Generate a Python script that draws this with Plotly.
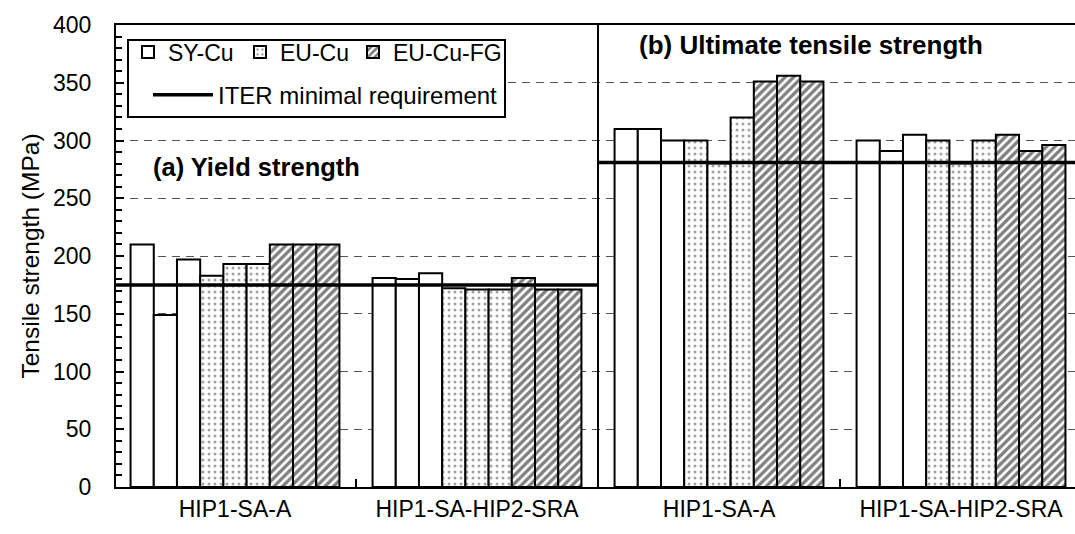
import plotly.graph_objects as go

categories = ["HIP1-SA-A", "HIP1-SA-HIP2-SRA", "HIP1-SA-A", "HIP1-SA-HIP2-SRA"]
materials = ["SY-Cu", "EU-Cu", "EU-Cu-FG"]
sy_cu = [[210, 149, 197], [181, 180, 185], [310, 310, 300], [300, 291, 305]]
eu_cu = [[183, 193, 193], [172, 171, 171], [300, 280, 320], [300, 280, 300]]
eu_cu_fg = [[210, 210, 210], [181, 171, 171], [351, 356, 351], [305, 291, 296]]
iter_yield = 175
iter_uts = 281
panel_labels = ["(a) Yield strength", "(b) Ultimate tensile strength"]
y_tick_vals = [0, 50, 100, 150, 200, 250, 300, 350, 400]

FONT = "Liberation Sans, Arial, sans-serif"
BW = 0.0959
X0, X1 = -0.4917, 3.471
PLOT_L, PLOT_W = 116, 959


def px_to_paper(px):
    return (px - PLOT_L) / PLOT_W


series = [sy_cu, eu_cu, eu_cu_fg]
styles = [
    dict(color="white"),
    dict(color="white", pattern=dict(shape=".", fgcolor="#444444", bgcolor="white", size=6, solidity=0.2)),
    dict(color="white", pattern=dict(shape="/", fgcolor="#000000", bgcolor="white", size=6, solidity=0.55)),
]
legend_names = ["legend", "legend2", "legend3"]
legend_text_px = [169, 281, 394]

fig = go.Figure()
for m, (name, vals, st) in enumerate(zip(materials, series, styles)):
    xs, ys = [], []
    for g, grp in enumerate(vals):
        for s, v in enumerate(grp):
            idx = m * 3 + s
            xs.append(g + (idx - 4) * BW)
            ys.append(v)
    fig.add_trace(go.Bar(
        x=xs, y=ys, width=BW, name=name, legend=legend_names[m],
        marker=dict(**st, line=dict(color="black", width=2)),
    ))

fig.add_trace(go.Scatter(x=[X0, 1.5], y=[iter_yield, iter_yield], mode="lines",
                         line=dict(color="black", width=3.5), name="ITER minimal requirement",
                         legend="legend4"))
fig.add_trace(go.Scatter(x=[1.5, X1], y=[iter_uts, iter_uts], mode="lines",
                         line=dict(color="black", width=3.5), showlegend=False,
                         legend="legend4"))
# boundary ticks axis
fig.add_trace(go.Scatter(x=[0.5], y=[None], xaxis="x2", showlegend=False, hoverinfo="skip"))

leg_common = dict(orientation="h", yanchor="middle", xanchor="left",
                  font=dict(size=23), bgcolor="rgba(0,0,0,0)")
layout_legends = {}
for i, ln in enumerate(legend_names):
    layout_legends[ln] = dict(**leg_common, x=px_to_paper(legend_text_px[i] - 41), y=0.9416)
layout_legends["legend4"] = dict(**leg_common, x=px_to_paper(148), y=0.848, itemwidth=60,
                                 font_size=24)

fig.update_layout(
    width=1075, height=534,
    margin=dict(l=PLOT_L, r=0, t=25, b=47),
    paper_bgcolor="white", plot_bgcolor="white",
    barmode="overlay",
    font=dict(family=FONT, size=23, color="black"),
    showlegend=True,
    xaxis=dict(range=[X0, X1], tickvals=[0, 1, 2, 3], ticktext=categories, ticks="",
               showline=True, linecolor="black", linewidth=2, mirror=True,
               showgrid=False, zeroline=False, tickfont=dict(size=23)),
    xaxis2=dict(range=[X0, X1], overlaying="x", side="bottom", tickvals=[0.5, 1.5, 2.5],
                ticks="inside", ticklen=8, tickwidth=2, tickcolor="black",
                showticklabels=False, showgrid=False, zeroline=False, showline=False),
    yaxis=dict(range=[0, 400], tickvals=y_tick_vals, ticks="inside", ticklen=8, tickwidth=2,
               tickcolor="black", showline=True, linecolor="black", linewidth=2,
               showgrid=True, gridcolor="#555555", gridwidth=1, griddash="8px,6px",
               zeroline=False, tickfont=dict(size=23), ticklabelstandoff=18,
               minor=dict(dtick=10, ticks="inside", ticklen=6, tickwidth=1.5, tickcolor="black", showgrid=False),
               title=dict(text="Tensile strength (MPa)", font=dict(size=24.5), standoff=6)),
    **layout_legends,
    shapes=[
        dict(type="rect", xref="paper", yref="paper", x0=px_to_paper(128), x1=px_to_paper(505),
             y0=0.8009, y1=0.9675, line=dict(color="black", width=2), fillcolor="white", layer="above"),
        dict(type="line", xref="x", yref="paper", x0=1.5, x1=1.5, y0=0, y1=1,
             line=dict(color="black", width=2)),
    ],
    annotations=[
        dict(x=0.087, y=277, xref="x", yref="y", text="<b>" + panel_labels[0] + "</b>",
             showarrow=False, font=dict(size=25.5)),
        dict(x=2.38, y=383, xref="x", yref="y", text="<b>" + panel_labels[1] + "</b>",
             showarrow=False, font=dict(size=26)),
    ],
)

fig.write_html("out.html")
